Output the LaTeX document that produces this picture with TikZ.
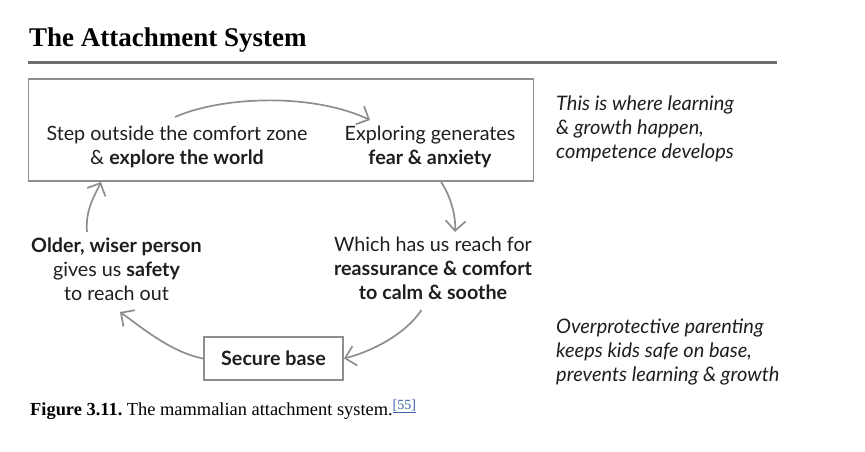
\documentclass[tikz,border=0pt]{standalone}
\usepackage{fontspec}
\setmainfont{Liberation Serif}
\newfontfamily\diafont{Lato}
\usetikzlibrary{arrows.meta}
\frenchspacing
\definecolor{linegray}{HTML}{8E8E8E}
\definecolor{rulegray}{HTML}{6E6E6E}
\definecolor{txt}{HTML}{1E1E1E}
\definecolor{linkblue}{HTML}{3A64A8}
\tikzset{
  dia/.style={font=\diafont\fontsize{19.7}{23.8}\selectfont, text=txt, align=center, inner sep=0pt, anchor=base},
  side/.style={font=\diafont\itshape\fontsize{20}{24}\selectfont, text=txt, align=left, inner sep=0pt, anchor=base west},
  arr/.style={draw=linegray, line width=1.7pt, -{Straight Barb[length=10pt,width=20pt,line width=1.7pt]}},
  boxline/.style={draw=linegray, line width=1.9pt},
}
\begin{document}
\begin{tikzpicture}[x=1pt,y=-1pt]
\useasboundingbox (0,0) rectangle (865,451);
% title
\node[anchor=base west, inner sep=0pt, font=\bfseries\fontsize{27}{30}\selectfont] (title) at (29,46) {The Attachment System};
\draw[rulegray, line width=3.5pt] (28,62.5) -- (777,62.5);
% big box
\node[boxline, minimum width=505pt, minimum height=102pt, inner sep=0pt] (zone) at (281,130) {};
\node[dia] (step) at (177,164.5) {Step outside the comfort zone\\\& \textbf{explore the world}};
\node[dia] (fear) at (430,164) {Exploring generates\\\textbf{fear \& anxiety}};
% right middle
\node[dia] (reach) at (433,299.5) {Which has us reach for\\\textbf{reassurance \& comfort}\\\textbf{to calm \& soothe}};
% left middle
\node[dia] (older) at (116.5,300.5) {\textbf{Older, wiser person}\\gives us \textbf{safety}\\to reach out};
% secure base
\node[boxline, minimum width=139pt, minimum height=43pt, inner sep=0pt, font=\diafont\bfseries\fontsize{19.7}{24}\selectfont, text=txt] (base) at (273.5,358.5) {Secure base};
% side texts
\node[side] (learn) at (556,158) {This is where learning\\\& growth happen,\\competence develops};
\node[side] (over) at (556,381) {Overprotective parenting\\keeps kids safe on base,\\prevents learning \& growth};
% caption
\node[anchor=base west, inner sep=0pt, font=\fontsize{18.4}{20}\selectfont] (cap) at (30,415) {\textbf{Figure 3.11.} The mammalian attachment system.\raisebox{6pt}{\fontsize{14}{14}\selectfont\color{linkblue}\underline{[55]}}};
% connectors
\coordinate (a1s) at (175,117);
\coordinate (a1e) at (370,120);
\draw[arr] (a1s) .. controls (220,97) and (310,92) .. (a1e);
\coordinate (a2s) at (441,182);
\coordinate (a2e) at (455,232);
\draw[arr] (a2s) .. controls (450,195) and (456,215) .. (a2e);
\coordinate (a3s) at (421.5,310);
\draw[arr] (a3s) .. controls (405,335) and (370,352) .. (base.east);
\coordinate (a4e) at (120,312);
\draw[arr] (base.west) .. controls (170,352) and (140,326) .. (a4e);
\coordinate (a5s) at (87,232);
\coordinate (a5e) at (101,182);
\draw[arr] (a5s) .. controls (85,210) and (95,195) .. (a5e);
\end{tikzpicture}
\end{document}
